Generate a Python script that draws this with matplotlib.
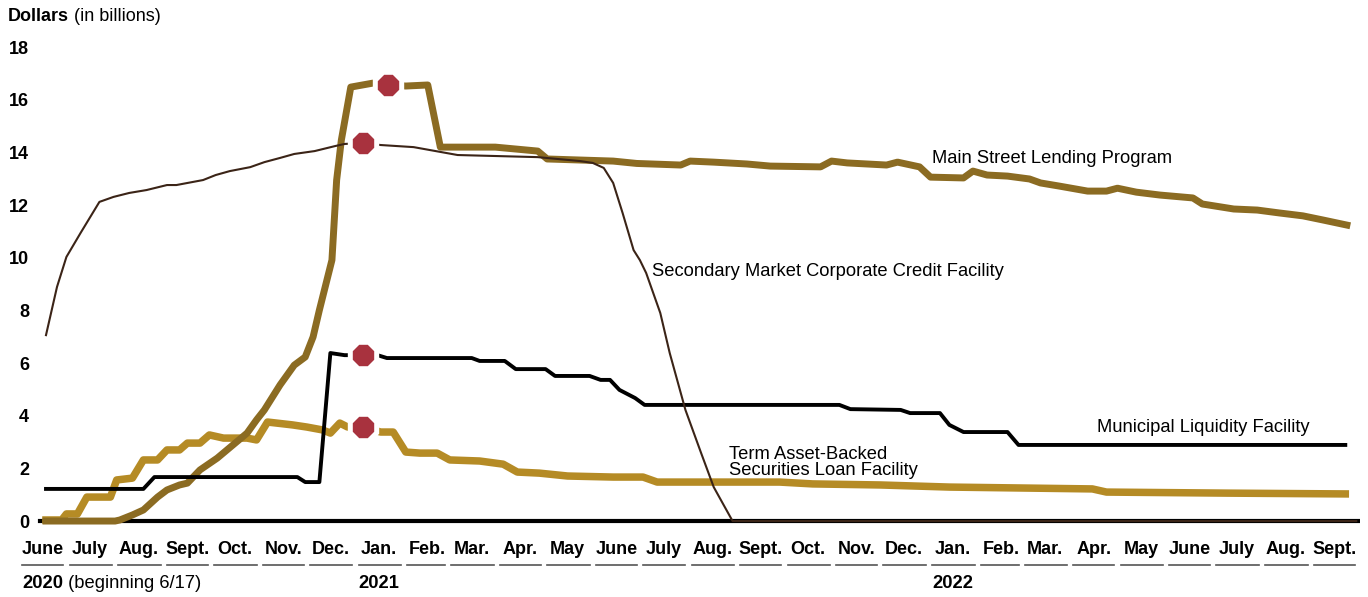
import numpy as np
import pandas as pd
import matplotlib
matplotlib.use('Agg')
import matplotlib.pyplot as plt
import matplotlib.transforms as mtransforms

plt.rcParams['font.family'] = ['Liberation Sans', 'DejaVu Sans']

START = pd.Timestamp('2020-06-17')

# days since 6/17/2020 and balances in billions of dollars
mslp_days = [0, 44, 47, 55, 62, 71, 77, 85, 90, 98, 109, 119, 128, 134, 139, 149, 158, 165, 170, 174,
             182, 185, 188, 194, 208, 218, 229, 243, 251, 286, 313, 319, 361, 376, 404, 410, 425, 446,
             461, 493, 500, 510, 535, 542, 556, 563, 584, 590, 599, 612, 626, 633, 645, 663, 675, 682,
             694, 709, 730, 736, 756, 771, 785, 800, 813, 828]
mslp_vals = [0.0, 0.0, 0.04, 0.23, 0.42, 0.91, 1.18, 1.37, 1.44, 1.94, 2.39, 2.89, 3.34, 3.84, 4.22,
             5.17, 5.92, 6.23, 6.99, 8.01, 9.91, 12.95, 14.47, 16.48, 16.63, 16.56, 16.52, 16.56, 14.20,
             14.20, 14.05, 13.75, 13.67, 13.58, 13.52, 13.67, 13.63, 13.56, 13.48, 13.45, 13.67, 13.60,
             13.52, 13.63, 13.45, 13.06, 13.03, 13.29, 13.14, 13.10, 12.99, 12.84, 12.72, 12.53, 12.53,
             12.64, 12.49, 12.38, 12.27, 12.04, 11.85, 11.81, 11.70, 11.59, 11.43, 11.24]

smccf_days = [0, 7, 13, 22, 34, 43, 53, 64, 77, 83, 100, 108, 117, 130, 139, 149, 158, 171, 184, 190,
              202, 213, 234, 262, 313, 340, 348, 355, 361, 367, 374, 378, 382, 391, 397, 407, 417, 425,
              437, 834]
smccf_vals = [7.06, 8.89, 10.03, 10.94, 12.12, 12.31, 12.46, 12.57, 12.76, 12.76, 12.95, 13.14, 13.29,
              13.44, 13.63, 13.79, 13.94, 14.05, 14.24, 14.32, 14.36, 14.28, 14.20, 13.90, 13.82, 13.67,
              13.60, 13.41, 12.84, 11.70, 10.29, 9.91, 9.42, 7.90, 6.38, 4.22, 2.58, 1.29, 0.0, 0.0]

mlf_days = [0, 62, 69, 160, 165, 174, 181, 190, 202, 211, 217, 271, 276, 292, 299, 318, 324, 346, 353,
            359, 365, 375, 381, 505, 512, 544, 550, 569, 575, 584, 612, 619, 827]
mlf_vals = [1.22, 1.22, 1.67, 1.67, 1.48, 1.48, 6.38, 6.30, 6.30, 6.30, 6.19, 6.19, 6.08, 6.08, 5.77,
            5.77, 5.51, 5.51, 5.36, 5.36, 4.98, 4.67, 4.41, 4.41, 4.25, 4.22, 4.10, 4.10, 3.65, 3.38,
            3.38, 2.89, 2.89]

talf_days = [0, 10, 13, 20, 26, 41, 45, 55, 62, 71, 77, 85, 90, 98, 104, 113, 128, 134, 141, 157,
             166, 176, 181, 187, 192, 202, 213, 221, 229, 238, 249, 257, 276, 291, 300, 314, 332, 361,
             380, 389, 425, 467, 488, 531, 575, 666, 675, 752, 827]
talf_vals = [0.04, 0.04, 0.27, 0.27, 0.91, 0.91, 1.56, 1.63, 2.32, 2.32, 2.70, 2.70, 2.96, 2.96, 3.27,
             3.15, 3.15, 3.08, 3.76, 3.65, 3.57, 3.46, 3.34, 3.72, 3.57, 3.57, 3.38, 3.38, 2.62, 2.58,
             2.58, 2.32, 2.28, 2.16, 1.86, 1.82, 1.71, 1.67, 1.67, 1.48, 1.48, 1.48, 1.41, 1.37, 1.29,
             1.22, 1.10, 1.06, 1.03]

# facility end markers (MSLP, SMCCF, MLF, TALF)
marker_days = [218, 202, 202, 202]
marker_vals = [16.56, 14.36, 6.30, 3.57]

month_names = {1: 'Jan.', 2: 'Feb.', 3: 'Mar.', 4: 'Apr.', 5: 'May', 6: 'June', 7: 'July',
               8: 'Aug.', 9: 'Sept.', 10: 'Oct.', 11: 'Nov.', 12: 'Dec.'}
y_ticks = [0, 2, 4, 6, 8, 10, 12, 14, 16, 18]


def to_dates(days):
    return (START + pd.to_timedelta(days, unit='D')).to_numpy()


fig = plt.figure(figsize=(13.68, 5.97), dpi=100)
ax = fig.add_axes([0.0234, 0.114, 0.9708, 0.8204])

ax.axhline(0, xmin=0.006, color='black', lw=3, zorder=1)
ax.plot(to_dates(talf_days), talf_vals, color='#B58B25', lw=5.4, solid_joinstyle='round', zorder=2)
ax.plot(to_dates(mslp_days), mslp_vals, color='#8B6B22', lw=5.0, solid_joinstyle='round', zorder=3)
ax.plot(to_dates(mlf_days), mlf_vals, color='black', lw=2.8, solid_joinstyle='round', zorder=4)
ax.plot(to_dates(smccf_days), smccf_vals, color='#3B2417', lw=1.5, zorder=5)

# white halo then red octagon
ax.plot(to_dates(marker_days), marker_vals, ls='none', marker='8', ms=23, color='white', zorder=6)
ax.plot(to_dates(marker_days), marker_vals, ls='none', marker='8', ms=15.5, color='#A8323E', zorder=7)

ax.set_ylim(-0.3, 18.3)
ax.set_xlim(START - pd.Timedelta(days=8.9), START + pd.Timedelta(days=836.4))
for s in ax.spines.values():
    s.set_visible(False)

ax.set_yticks(y_ticks)
ax.set_yticklabels([str(t) for t in y_ticks], fontsize=13, fontweight='bold')
ax.tick_params(axis='y', length=0, pad=2)

months = pd.date_range('2020-06-01', '2022-09-01', freq='MS')
ax.set_xticks((months + pd.Timedelta(days=14)).to_numpy())
ax.set_xticklabels([month_names[m.month] for m in months], fontsize=13, fontweight='bold')
ax.tick_params(axis='x', length=0, pad=9)

trans = mtransforms.blended_transform_factory(ax.transData, ax.transAxes)
for m in months:
    nxt = m + pd.offsets.MonthBegin(1)
    ax.plot([(m + pd.Timedelta(days=1)).to_numpy(), (nxt - pd.Timedelta(days=3)).to_numpy()],
            [-0.074, -0.074], transform=trans, color='#555555', lw=1.2, clip_on=False)

t20 = ax.text(pd.Timestamp('2020-06-02'), -0.111, '2020', transform=trans, fontsize=13.2,
              fontweight='bold', va='center', ha='left')
ax.annotate(' (beginning 6/17)', xy=(1, 0), xycoords=t20, va='bottom', ha='left', fontsize=13.2)
ax.text(pd.Timestamp('2021-01-02'), -0.111, '2021', transform=trans, fontsize=13.2,
        fontweight='bold', va='center', ha='left')
ax.text(pd.Timestamp('2022-01-02'), -0.111, '2022', transform=trans, fontsize=13.2,
        fontweight='bold', va='center', ha='left')

t_dol = fig.text(0.006, 0.972, 'Dollars', fontsize=13, fontweight='bold', va='center', ha='left')
fig.canvas.draw()
ax.annotate(' (in billions)', xy=(1, 0), xycoords=t_dol, va='bottom', ha='left', fontsize=13)

lab = 13.25
ax.text(pd.Timestamp('2022-01-02'), 13.60, 'Main Street Lending Program', fontsize=lab, va='baseline')
ax.text(pd.Timestamp('2021-07-08'), 9.46, 'Secondary Market Corporate Credit Facility', fontsize=lab,
        va='center')
ax.text(pd.Timestamp('2022-04-17'), 3.38, 'Municipal Liquidity Facility', fontsize=lab, va='baseline')
ax.text(pd.Timestamp('2021-08-26'), 2.22, 'Term Asset-Backed\nSecurities Loan Facility', fontsize=lab,
        va='center', linespacing=0.95)

fig.savefig('out.png', dpi=100)
